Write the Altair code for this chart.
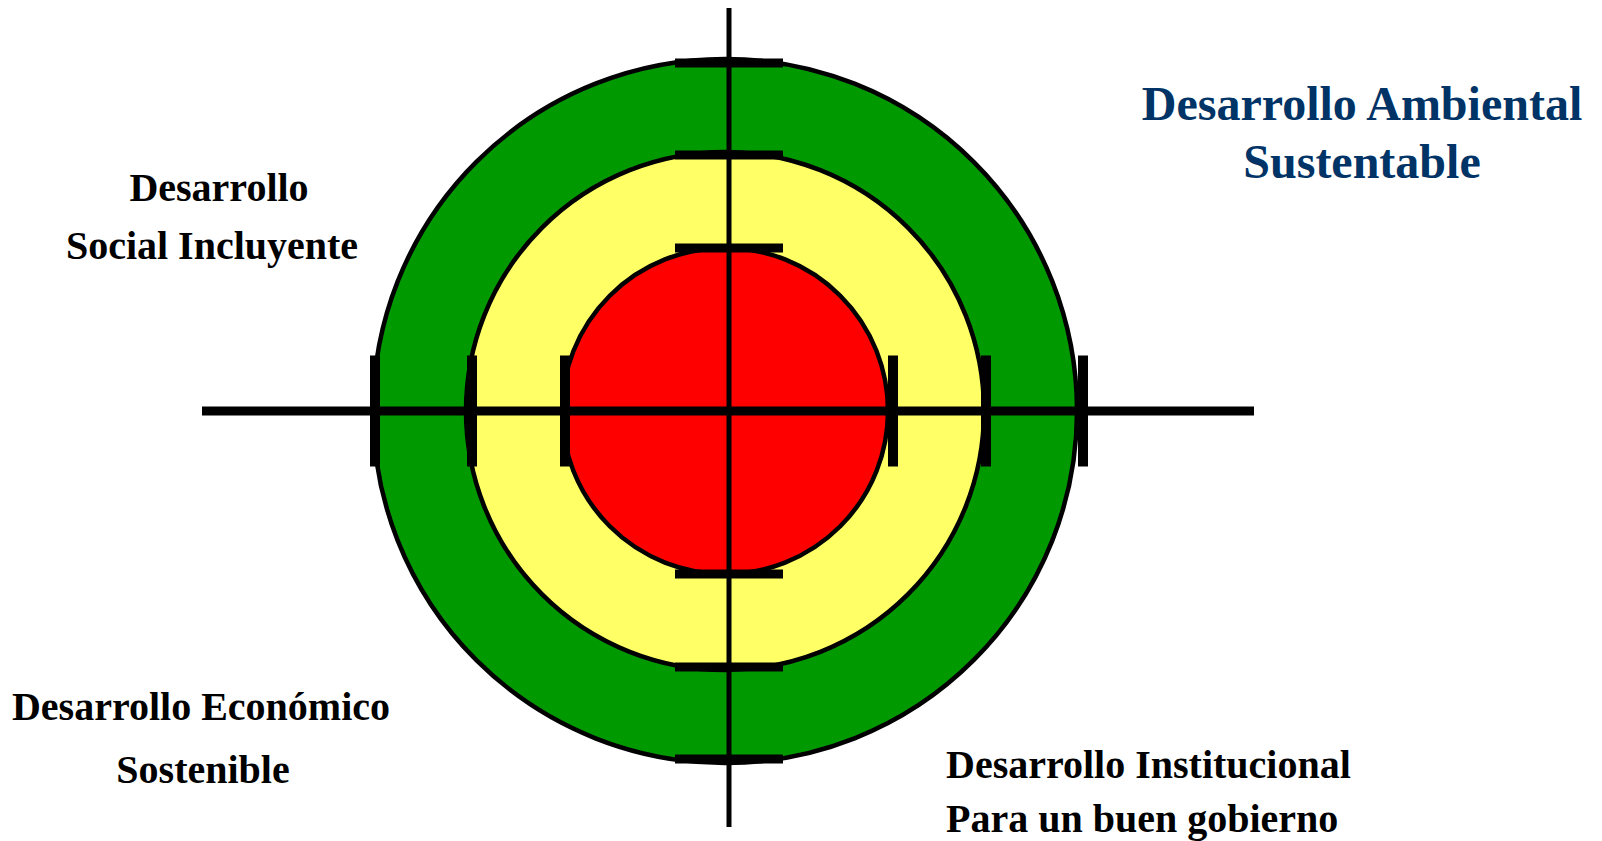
import math
import altair as alt
import pandas as pd

# ---- rings of the target (outer -> inner) ----
ring_names = ["exterior", "medio", "interior"]
ring_colors = ["#009900", "#FFFF66", "#FF0000"]
ring_radius = [352, 259, 163]        # mean radius of each ring
ring_center = [-4, 0]                # rings sit a little left of the cross-hair
ring_half_width = [354, 257, 164]    # where the left/right marks sit
ring_half_height = [348, 256, 163]   # where the top/bottom marks sit

# ---- cross-hair arms ----
cross_h = [-527, 525]   # left end, right end
cross_v = [405, -416]   # top end, bottom end

# ---- labels ----
center_labels = ["Desarrollo", "Social Incluyente", "Desarrollo Económico", "Sostenible"]
center_x = [-510, -517, -528, -526]
center_y = [210, 152, -309, -372]

blue_labels = ["Desarrollo Ambiental", "Sustentable"]
blue_x = [633, 633]
blue_y = [291, 233]

left_labels = ["Desarrollo Institucional", "Para un buen gobierno"]
left_x = [217, 217]
left_y = [-367, -421]

xs = alt.Scale(domain=[-721, 865], nice=False, zero=False)
ys = alt.Scale(domain=[-430, 403], nice=False, zero=False)

rings = pd.DataFrame({"ring": ring_names, "r": ring_radius,
                      "cx": [ring_center[0]] * len(ring_names),
                      "cy": [ring_center[1]] * len(ring_names)})

ring_layer = alt.Chart(rings).mark_arc(
    theta=0, theta2=2 * math.pi, stroke="black", strokeWidth=4.5
).encode(
    x=alt.X("cx:Q", scale=xs, axis=None),
    y=alt.Y("cy:Q", scale=ys, axis=None),
    radius=alt.Radius("r:Q", scale=None, stack=None),
    fill=alt.Fill("ring:N", scale=alt.Scale(domain=ring_names, range=ring_colors), legend=None),
)

hline = pd.DataFrame({"x": [cross_h[0]], "x2": [cross_h[1]], "y": [0]})
vline = pd.DataFrame({"x": [0], "y": [cross_v[0]], "y2": [cross_v[1]]})

h_layer = alt.Chart(hline).mark_rule(color="black", strokeWidth=9).encode(
    x=alt.X("x:Q", scale=xs, axis=None), x2="x2:Q",
    y=alt.Y("y:Q", scale=ys, axis=None),
)
v_layer = alt.Chart(vline).mark_rule(color="black", strokeWidth=5).encode(
    x=alt.X("x:Q", scale=xs, axis=None),
    y=alt.Y("y:Q", scale=ys, axis=None), y2="y2:Q",
)

tb = pd.DataFrame({"x": [0] * 6,
                   "y": [h for h in ring_half_height] + [-h for h in ring_half_height]})
lr = pd.DataFrame({"x": [w for w in ring_half_width] + [-w for w in ring_half_width],
                   "y": [0] * 6})

tb_ticks = alt.Chart(tb).mark_tick(orient="horizontal", size=108, thickness=9,
                                   color="black", opacity=1).encode(
    x=alt.X("x:Q", scale=xs, axis=None),
    y=alt.Y("y:Q", scale=ys, axis=None),
)
lr_ticks = alt.Chart(lr).mark_tick(orient="vertical", size=111, thickness=10,
                                   color="black", opacity=1).encode(
    x=alt.X("x:Q", scale=xs, axis=None),
    y=alt.Y("y:Q", scale=ys, axis=None),
)

def text_layer(labels, xv, yv, color, size, align):
    df = pd.DataFrame({"t": labels, "x": xv, "y": yv})
    return alt.Chart(df).mark_text(
        font="Liberation Serif", fontWeight="bold", fontSize=size,
        color=color, align=align, baseline="alphabetic"
    ).encode(
        x=alt.X("x:Q", scale=xs, axis=None),
        y=alt.Y("y:Q", scale=ys, axis=None),
        text="t:N",
    )

t1 = text_layer(center_labels, center_x, center_y, "black", 40, "center")
t2 = text_layer(blue_labels, blue_x, blue_y, "#003366", 48, "center")
t3 = text_layer(left_labels, left_x, left_y, "black", 40, "left")

chart = alt.layer(ring_layer, h_layer, v_layer, tb_ticks, lr_ticks, t1, t2, t3).properties(
    width=1586, height=833, autosize=alt.AutoSizeParams(type="none"), padding=0,
    background="white",
).configure_view(strokeWidth=0)

chart.save("out.html", embed_options={"renderer": "svg", "actions": False})
